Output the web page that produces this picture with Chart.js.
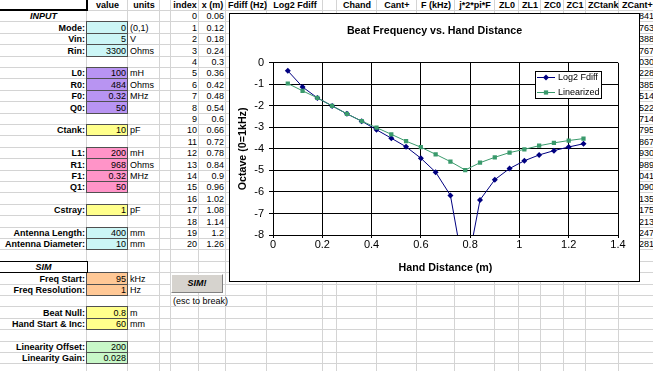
<!DOCTYPE html>
<html>
<head>
<meta charset="utf-8">
<script src="https://cdn.jsdelivr.net/npm/chart.js@4.4.0/dist/chart.umd.min.js"></script>
<style>
  html, body { margin: 0; padding: 0; background: #fff; overflow: hidden; }
  #sheet { position: relative; width: 653px; height: 371px; overflow: hidden;
           font: 9px "Liberation Sans", Arial, sans-serif; color: #000; }
  .gl { position: absolute; background: #d4d4d4; }
  .fill { position: absolute; box-sizing: border-box; border: 1px solid #505050; }
  .t { position: absolute; box-sizing: border-box; padding: 0 2px; white-space: nowrap; }
  .b { font-weight: bold; }
  .i { font-style: italic; }
  #simBtn { position: absolute; left: 171px; top: 274px; width: 52px; height: 19px; box-sizing: border-box;
            background: #d6d3ce; border: 1px solid; border-color: #fff #808080 #808080 #fff;
            font: italic bold 9px "Liberation Sans", Arial, sans-serif; text-align: center; line-height: 17px; }
  #chartBox { position: absolute; left: 229px; top: 13px; width: 411px; height: 269px; box-sizing: border-box;
              border: 1px solid #000; background: #fff; z-index: 5; }
  #chart { display: block; }
</style>
</head>
<body>
<div id="sheet">
  <div id="simBtn">SIM!</div>
  <div id="chartBox"><canvas id="chart" width="409" height="267"></canvas></div>
</div>
<script>
// chart data: hand distance (m) and octave values
const xs = [0.06, 0.12, 0.18, 0.24, 0.3, 0.36, 0.42, 0.48, 0.54, 0.6, 0.66,
            0.72, 0.78, 0.84, 0.9, 0.96, 1.02, 1.08, 1.14, 1.2, 1.26];
const log2Fdiff = [-0.37, -1.12, -1.63, -2.0, -2.37, -2.71, -3.11, -3.5, -3.9, -4.43, -5.08,
                   -6.16, -10.0, -6.37, -5.43, -4.91, -4.55, -4.28, -4.08, -3.91, -3.76];
const linearized = [-0.96, -1.3, -1.63, -2.0, -2.37, -2.71, -3.01, -3.32, -3.64, -3.92, -4.25,
                    -4.59, -4.98, -4.64, -4.39, -4.17, -4.02, -3.85, -3.72, -3.61, -3.52];

// spreadsheet text
const headers = ['', 'value', 'units', '', 'index', 'x (m)', 'Fdiff (Hz)', 'Log2 Fdiff', '', 'Chand',
                 'Cant+', 'F (kHz)', 'j*2*pi*F', 'ZL0', 'ZL1', 'ZC0', 'ZC1', 'ZCtank', 'ZCant+'];
const paramLabels = ['INPUT', 'Mode:', 'Vin:', 'Rin:', '', 'L0:', 'R0:', 'F0:', 'Q0:', '', 'Ctank:', '',
                     'L1:', 'R1:', 'F1:', 'Q1:', '', 'Cstray:', '', 'Antenna Length:', 'Antenna Diameter:', '',
                     'SIM', 'Freq Start:', 'Freq Resolution:', '', 'Beat Null:', 'Hand Start & Inc:', '',
                     'Linearity Offset:', 'Linearity Gain:'];
const paramValues = ['', '0', '5', '3300', '', '100', '484', '0.32', '50', '', '10', '',
                     '200', '968', '0.32', '50', '', '1', '', '400', '10', '',
                     '', '95', '1', '', '0.8', '60', '', '200', '0.028'];
const paramUnits = ['', '(0,1)', 'V', 'Ohms', '', 'mH', 'Ohms', 'MHz', '', '', 'pF', '',
                    'mH', 'Ohms', 'MHz', '', '', 'pF', '', 'mm', 'mm', '',
                    '', 'kHz', 'Hz', '', 'm', 'mm', '', '', ''];
const paramFills = ['', 'cyan', 'cyan', 'cyan', '', 'purple', 'purple', 'purple', 'purple', '', 'yellow', '',
                    'pink', 'pink', 'pink', 'pink', '', 'yellow', '', 'cyan', 'cyan', '',
                    '', 'orange', 'orange', '', 'yellow', 'yellow', '', 'green', 'green'];
const zcantTails = ['841', '763', '388', '767', '030', '228', '385', '514', '522', '714', '795',
                    '867', '930', '989', '041', '090', '135', '175', '213', '247', '281'];

const FILL_COLORS = {
  cyan: '#ccf6f6', purple: '#b894f2', yellow: '#ffff8c',
  pink: '#ff94c8', orange: '#ffc896', green: '#c8f8c8',
};
const colEdges = [0, 87, 128, 160, 171, 199, 226, 267, 323, 337, 377, 417, 455, 495, 519, 541, 564, 586, 619, 656];
const NROWS = 31;

function rowTop(r) {
  return r === 0 ? 0 : Math.round(11 + (r - 1) * 11.4);
}
function rowHeight(r) {
  return rowTop(r + 1) - rowTop(r);
}

const sheet = document.getElementById('sheet');

function addDiv(cls, style, text) {
  const d = document.createElement('div');
  d.className = cls;
  Object.assign(d.style, style);
  if (text !== undefined) d.textContent = text;
  sheet.insertBefore(d, sheet.firstChild);
  return d;
}

function cell(r, c, text, align, cls = '') {
  if (!text) return;
  const h = rowHeight(r);
  addDiv('t ' + cls, {
    left: colEdges[c] + 'px', top: rowTop(r) + 'px',
    width: (colEdges[c + 1] - colEdges[c]) + 'px', height: h + 'px',
    lineHeight: h + 'px', textAlign: align,
  }, text);
}

function buildSheet() {
  // text first (inserted before, so it ends up above the grid)
  headers.forEach((h, c) => cell(0, c, h, 'center', 'b'));
  paramLabels.forEach((lab, i) => {
    const r = i + 1;
    if (lab === 'INPUT' || lab === 'SIM') cell(r, 0, lab, 'center', 'b i');
    else cell(r, 0, lab, 'right', 'b');
    cell(r, 1, paramValues[i], 'right');
    cell(r, 2, paramUnits[i], 'left');
  });
  xs.forEach((x, i) => {
    cell(i + 1, 4, String(i), 'right');
    cell(i + 1, 5, String(x), 'right');
    cell(i + 1, 18, zcantTails[i], 'right');
  });
  cell(26, 4, '(esc to break)', 'left');

  // boxed cells
  addDiv('fill', { left: '0px', top: (rowTop(1) - 2) + 'px', width: '88px', height: '2px', background: '#000', border: 'none' });
  addDiv('fill', { left: '86px', top: '0px', width: '2px', height: rowTop(1) + 'px', background: '#000', border: 'none' });
  addDiv('fill', { left: '-1px', top: (rowTop(23) - 1) + 'px', width: '89px', height: (rowHeight(23) + 1) + 'px',
                   borderColor: '#000', background: '#fff' });

  paramFills.forEach((f, i) => {
    if (!f) return;
    const r = i + 1;
    addDiv('fill', {
      left: (colEdges[1] - 1) + 'px', top: (rowTop(r) - 1) + 'px',
      width: (colEdges[2] - colEdges[1] + 1) + 'px', height: (rowHeight(r) + 1) + 'px',
      background: FILL_COLORS[f],
    });
  });

  // grid lines
  for (let r = 0; r <= NROWS; r++) {
    addDiv('gl', { left: '0px', top: (rowTop(r + 1) - 1) + 'px', width: '653px', height: '1px' });
  }
  colEdges.slice(1).forEach((x) => {
    addDiv('gl', { left: (x - 1) + 'px', top: '0px', width: '1px', height: '371px' });
  });
}

buildSheet();

// legend drawn inside the plot area, Excel style
const boxLegend = {
  id: 'boxLegend',
  afterDraw(chart, args, opts) {
    const { ctx, chartArea } = chart;
    const x0 = Math.round(chartArea.right - opts.right - opts.width);
    const y0 = Math.round(chartArea.top + opts.top);
    ctx.save();
    ctx.fillStyle = '#fff';
    ctx.fillRect(x0, y0, opts.width, opts.height);
    ctx.strokeStyle = '#000';
    ctx.lineWidth = 1;
    ctx.strokeRect(x0 + 0.5, y0 + 0.5, opts.width, opts.height);
    ctx.font = opts.font;
    ctx.textBaseline = 'middle';
    chart.data.datasets.forEach((ds, i) => {
      const cy = y0 + opts.firstRow + i * opts.rowGap + 0.5;
      ctx.strokeStyle = ds.borderColor;
      ctx.beginPath();
      ctx.moveTo(x0 + 2, cy);
      ctx.lineTo(x0 + 20, cy);
      ctx.stroke();
      ctx.fillStyle = ds.pointBackgroundColor;
      Chart.helpers.drawPoint(ctx, { pointStyle: ds.pointStyle, radius: ds.pointRadius, borderWidth: 0, rotation: 0 }, x0 + 11, cy);
      ctx.fillStyle = '#000';
      ctx.fillText(ds.label, x0 + 23, cy);
    });
    ctx.restore();
  },
};

const NAVY = '#000080';
const GREEN = '#3a9a6c';
const FONT = '"Liberation Sans", Arial, sans-serif';
Chart.defaults.font.family = FONT;
Chart.defaults.color = '#000';

new Chart(document.getElementById('chart'), {
  type: 'line',
  data: {
    datasets: [
      {
        label: 'Log2 Fdiff',
        data: xs.map((x, i) => ({ x: x, y: log2Fdiff[i] })),
        borderColor: NAVY,
        backgroundColor: NAVY,
        pointBackgroundColor: NAVY,
        borderWidth: 1,
        pointStyle: 'rectRot',
        pointRadius: 3,
        pointBorderWidth: 0,
        tension: 0,
        order: 1,
      },
      {
        label: 'Linearized',
        data: xs.map((x, i) => ({ x: x, y: linearized[i] })),
        borderColor: GREEN,
        backgroundColor: GREEN,
        pointBackgroundColor: GREEN,
        borderWidth: 1,
        pointStyle: 'rect',
        pointRadius: 3,
        pointBorderWidth: 0,
        tension: 0,
        order: 0,
      },
    ],
  },
  options: {
    responsive: false,
    animation: false,
    events: [],
    layout: { padding: 0 },
    plugins: {
      legend: { display: false },
      tooltip: { enabled: false },
      title: {
        display: true,
        text: 'Beat Frequency vs. Hand Distance',
        font: { size: 10.7, weight: 'bold' },
        color: '#000',
        padding: { top: 11, bottom: 25 },
      },
      boxLegend: { right: 17, top: 8, width: 66, height: 27, firstRow: 6, rowGap: 15, font: '9px ' + FONT },
    },
    scales: {
      x: {
        type: 'linear',
        min: 0,
        max: 1.4,
        ticks: { stepSize: 0.2, font: { size: 11 }, padding: 0, maxRotation: 0,
                 callback: (v) => String(Math.round(v * 10) / 10) },
        grid: { color: '#000', tickLength: 3 },
        border: { color: '#000' },
        title: { display: true, text: 'Hand Distance (m)', font: { size: 10.7, weight: 'bold' },
                 padding: { top: 0, bottom: 6.5 } },
        afterFit: (s) => { s.height = 46; },
      },
      y: {
        min: -8,
        max: 0,
        ticks: { stepSize: 1, font: { size: 11 }, padding: 5 },
        grid: { color: '#000', tickLength: 4 },
        border: { color: '#000' },
        title: { display: true, text: 'Octave (0=1kHz)', font: { size: 10.7, weight: 'bold' },
                 padding: { top: 6.6, bottom: 0 } },
        afterFit: (s) => { s.width = 43; },
      },
      yPad: {
        position: 'right',
        display: true,
        ticks: { display: false },
        grid: { display: false },
        border: { display: false },
        afterFit: (s) => { s.width = 21; },
      },
    },
  },
  plugins: [boxLegend],
});
</script>
</body>
</html>
